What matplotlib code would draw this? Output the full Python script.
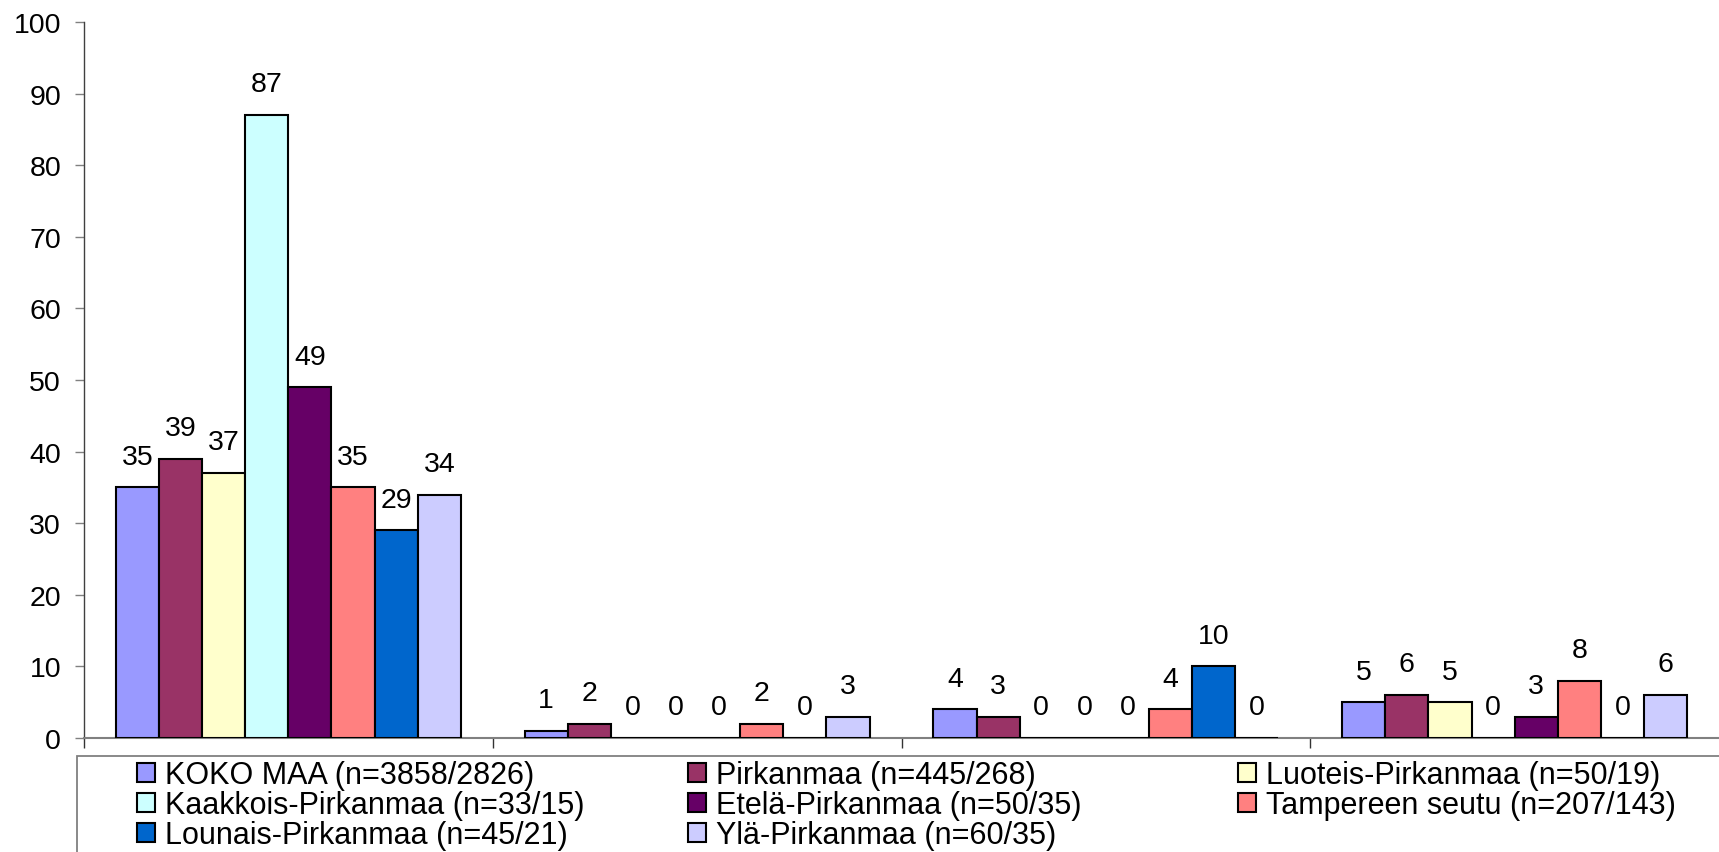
import numpy as np
import matplotlib.pyplot as plt
from matplotlib.patches import Patch, Rectangle

# Datos
series = [
    "KOKO MAA (n=3858/2826)",
    "Pirkanmaa (n=445/268)",
    "Luoteis-Pirkanmaa (n=50/19)",
    "Kaakkois-Pirkanmaa (n=33/15)",
    "Etelä-Pirkanmaa (n=50/35)",
    "Tampereen seutu (n=207/143)",
    "Lounais-Pirkanmaa (n=45/21)",
    "Ylä-Pirkanmaa (n=60/35)",
]
koko_maa = [35, 1, 4, 5]
pirkanmaa = [39, 2, 3, 6]
luoteis = [37, 0, 0, 5]
kaakkois = [87, 0, 0, 0]
etela = [49, 0, 0, 3]
tampereen = [35, 2, 4, 8]
lounais = [29, 0, 10, 0]
yla = [34, 3, 0, 6]
valores = [koko_maa, pirkanmaa, luoteis, kaakkois, etela, tampereen, lounais, yla]

colores = ['#9999FF', '#993366', '#FFFFCC', '#CCFFFF',
           '#660066', '#FF8080', '#0066CC', '#CCCCFF']

plt.rcParams['font.family'] = ['Liberation Sans', 'DejaVu Sans']

W, H = 1719, 853
fig = plt.figure(figsize=(W / 100, H / 100), dpi=100)
ax = fig.add_axes([84 / W, 1 - 739 / H, (W - 84) / W, (739 - 23) / H])

grupos = np.arange(4)
ancho = 0.1055
n = len(series)

for i, vals in enumerate(valores):
    x = grupos + (i - (n - 1) / 2) * ancho
    ax.bar(x, vals, width=ancho, color=colores[i], edgecolor='black', linewidth=1.5, zorder=3)
    for xi, v in zip(x, vals):
        ax.annotate(str(v), (xi, v), xytext=(0, 17), textcoords='offset points',
                    ha='center', va='baseline', fontsize=20.5, zorder=4)

ax.set_xlim(-0.5, 3.5)
ax.set_ylim(0, 100)
ax.set_yticks(np.arange(0, 101, 10))
ax.set_xticks([-0.5, 0.5, 1.5, 2.5])
ax.set_xticklabels([])
ax.tick_params(axis='y', labelsize=20.5, length=6.5, width=1, color='#808080', pad=10)
ax.tick_params(axis='x', length=7, width=1, color='#333333', direction='out')

ax.spines['top'].set_visible(False)
ax.spines['right'].set_visible(False)
ax.spines['left'].set_color('#404040')
ax.spines['left'].set_linewidth(1)
ax.spines['bottom'].set_color('#808080')
ax.spines['bottom'].set_linewidth(1.5)

# Caja de la leyenda (se sale por la derecha y por abajo como en el original)
fig.patches.append(Rectangle((77 / W, -0.2), 1.0, (853 - 757) / H + 0.2,
                             transform=fig.transFigure, fill=False,
                             edgecolor='#808080', linewidth=1.3))

handles = [Patch(facecolor=colores[i], edgecolor='black', linewidth=1.5, label=series[i])
           for i in range(n)]

# Una leyenda por columna, el orden va por filas como en Excel
columnas = [([0, 3, 6], 137), ([1, 4, 7], 688), ([2, 5], 1238)]
for idx, x0 in columnas:
    fig.legend([handles[k] for k in idx], [series[k] for k in idx],
               loc='upper left', bbox_to_anchor=(x0 / W, 1 - 761 / H),
               frameon=False, fontsize=22, borderpad=0, borderaxespad=0,
               handlelength=0.59, handleheight=0.56, handletextpad=0.33,
               labelspacing=0.0)

plt.savefig('out.png', dpi=100)
